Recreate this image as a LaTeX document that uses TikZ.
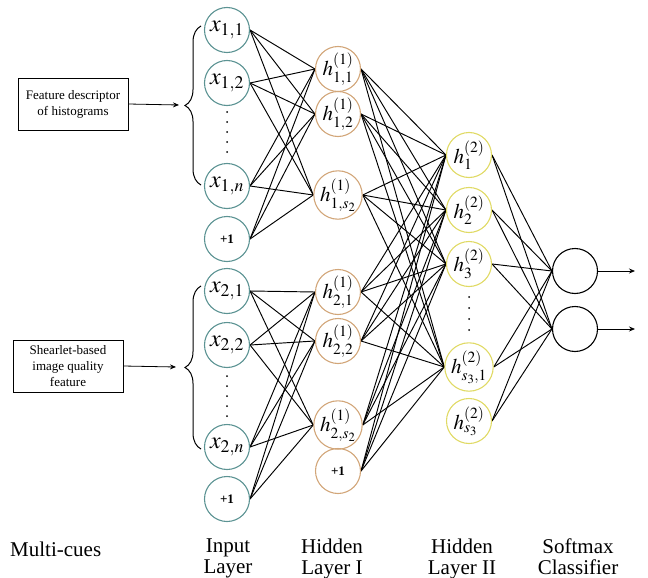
\documentclass[tikz,border=0pt]{standalone}
\usepackage{mathptmx}
\usepackage[no-math]{fontspec}
\setmainfont{Liberation Serif}
\usetikzlibrary{decorations.pathreplacing,arrows.meta,backgrounds}

\begin{document}
\begin{tikzpicture}
[ x = 1pt, y = -1pt,
  neuron/.style = {circle, draw, line width = 1.1pt, minimum size = 45pt, inner sep = 0pt,
                   font = \fontsize{24}{24}\selectfont},
  hidden/.style = {neuron, font = \fontsize{21}{21}\selectfont},
  bias/.style = {neuron, font = \fontsize{13}{13}\selectfont\bfseries},
  cue/.style = {draw, line width = 0.8pt, minimum width = 110pt, minimum height = 52pt,
                align = center, font = \fontsize{13}{16}\selectfont},
  layername/.style = {anchor = north, align = center, inner sep = 0pt,
                      font = \fontsize{21}{20.5}\selectfont},
  link/.style = {line width = 0.95pt},
  feed/.style = {line width = 0.8pt, -{Stealth[length=6pt, width=5pt]}},
]

% Define layer colors
\colorlet{inputcolor}{teal!50!gray!85!white}
\colorlet{hiddenonecolor}{brown!70!white}
\colorlet{hiddentwocolor}{yellow!50!olive!55!white}
\colorlet{softcolor}{black}

\useasboundingbox (0,0) rectangle (648,578);

%%%%%%%%%%% CUES
  \node[cue] (hist) at (73,104) {Feature descriptor\\of histograms};
  \node[cue] (shear) at (68,366) {Shearlet-based\\image quality\\feature};
  \coordinate (brace1) at (179,105);
  \coordinate (brace2) at (176,367);
  \draw[feed] (hist.east) -- (brace1);
  \draw[feed] (shear.east) -- (brace2);
  \draw[line width = 1pt, decorate, decoration = {brace, mirror, amplitude = 16pt}]
    (201,26) -- (201,185);
  \draw[line width = 1pt, decorate, decoration = {brace, mirror, amplitude = 16pt}]
    (201,286) -- (201,449);

%%%%%%%%%%% INPUT LAYER
  \node[neuron, draw = inputcolor] (x11) at (227,30)  {$x_{1,1}$};
  \node[neuron, draw = inputcolor] (x12) at (227,83)  {$x_{1,2}$};
  \node[neuron, draw = inputcolor] (x1n) at (227,186) {$x_{1,n}$};
  \node[bias,   draw = inputcolor] (b1)  at (227,239) {+1};
  \node[neuron, draw = inputcolor] (x21) at (227,291) {$x_{2,1}$};
  \node[neuron, draw = inputcolor] (x22) at (227,345) {$x_{2,2}$};
  \node[neuron, draw = inputcolor] (x2n) at (227,447) {$x_{2,n}$};
  \node[bias,   draw = inputcolor] (b2)  at (227,499) {+1};
  \foreach \y in {112,122,132,142,152,376,386,396,406,416}
    \fill (227,\y) circle (1pt);

%%%%%%%%%%% HIDDEN LAYER I
  \node[hidden, draw = hiddenonecolor] (h11) at (338,69)  {$h^{(1)}_{1,1}$};
  \node[hidden, draw = hiddenonecolor] (h12) at (338,114) {$h^{(1)}_{1,2}$};
  \node[hidden, draw = hiddenonecolor] (h1s) at (338,195) {$h^{(1)}_{1,s_2}$};
  \node[hidden, draw = hiddenonecolor] (h21) at (338,292) {$h^{(1)}_{2,1}$};
  \node[hidden, draw = hiddenonecolor] (h22) at (338,341) {$h^{(1)}_{2,2}$};
  \node[hidden, draw = hiddenonecolor] (h2s) at (338,425) {$h^{(1)}_{2,s_2}$};
  \node[bias,   draw = hiddenonecolor] (hb)  at (338,471) {+1};

%%%%%%%%%%% HIDDEN LAYER II
  \node[hidden, draw = hiddentwocolor] (g1)  at (469,155) {$h^{(2)}_{1}$};
  \node[hidden, draw = hiddentwocolor] (g2)  at (469,210) {$h^{(2)}_{2}$};
  \node[hidden, draw = hiddentwocolor] (g3)  at (469,264) {$h^{(2)}_{3}$};
  \node[hidden, draw = hiddentwocolor] (gs1) at (469,367) {$h^{(2)}_{s_3,1}$};
  \node[hidden, draw = hiddentwocolor] (gs)  at (469,421) {$h^{(2)}_{s_3}$};
  \foreach \y in {297,308,319,330}
    \fill (469,\y) circle (1pt);

%%%%%%%%%%% SOFTMAX
  \node[neuron, draw = softcolor] (s1) at (575,271) {};
  \node[neuron, draw = softcolor] (s2) at (575,329) {};
  \coordinate (out1) at (635,271);
  \coordinate (out2) at (635,329);
  \draw[feed] (s1.east) -- (out1);
  \draw[feed] (s2.east) -- (out2);

%%%%%%%%%%% LABELS
  \node[anchor = base west, inner sep = 0pt, font = \fontsize{21}{21}\selectfont]
    (cues) at (10,556) {Multi-cues};
  \node[layername] (linput) at (228,539) {Input\\Layer};
  \node[layername] (lhone)  at (332,539) {Hidden\\Layer I};
  \node[layername] (lhtwo)  at (462,539) {Hidden\\Layer II};
  \node[layername] (lsoft)  at (578,539) {Softmax\\Classifier};

%%%%%%%%%% CONNECTIONS
  \begin{pgfonlayer}{background}
    \foreach \a in {x11,x12,x1n,b1}
      \foreach \b in {h11,h12,h1s}
        \draw[link] (\a.east) -- (\b.west);
    \foreach \a in {x21,x22,x2n,b2}
      \foreach \b in {h21,h22,h2s}
        \draw[link] (\a.east) -- (\b.west);
    \foreach \a in {h11,h12,h1s,h21,h22,h2s,hb}
      \foreach \b in {g1,g2,g3,gs1}
        \draw[link] (\a.east) -- (\b.west);
    \foreach \a in {g1,g2,g3,gs1,gs}
      \foreach \b in {s1,s2}
        \draw[link] (\a.east) -- (\b.west);
  \end{pgfonlayer}

\end{tikzpicture}
\end{document}
